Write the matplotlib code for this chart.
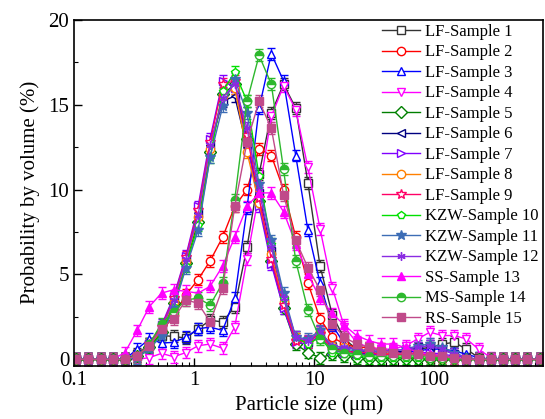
import numpy as np
import matplotlib
matplotlib.use("Agg")
import matplotlib.pyplot as plt
from matplotlib.lines import Line2D
from matplotlib.ticker import FixedLocator, LogLocator, NullFormatter, MultipleLocator

plt.rcParams['font.family'] = ['Liberation Serif', 'DejaVu Serif']

# size classes of the analyser (um)
size_um = [0.104, 0.131, 0.166, 0.210, 0.265, 0.335, 0.423, 0.535, 0.676, 0.855,
           1.08, 1.36, 1.73, 2.18, 2.76, 3.48, 4.40, 5.56, 7.03, 8.88,
           11.2, 14.2, 17.9, 22.6, 28.6, 36.2, 45.7, 57.8, 73.0, 92.3,
           117, 147, 186, 235, 297, 376, 475, 600, 759]

lf1 = [0, 0, 0, 0, 0, 0.3, 0.9, 1.4, 1.35, 1.25, 1.8, 2.3, 2.2, 3.1, 6.6, 10.9, 14.5, 16.2, 14.8, 10.4,
       5.5, 2.6, 1.2, 0.6, 0.4, 0.3, 0.3, 0.4, 0.6, 0.7, 0.9, 1.0, 0.6, 0.1, 0, 0, 0, 0, 0]
lf2 = [0, 0, 0, 0, 0, 0.2, 0.8, 1.6, 2.6, 3.8, 4.7, 5.8, 7.2, 9.0, 10.0, 12.4, 12.0, 10.0, 7.2, 4.5,
       2.4, 1.3, 0.9, 0.7, 0.7, 0.6, 0.5, 0.4, 0.3, 0.3, 0.2, 0.1, 0, 0, 0, 0, 0, 0, 0]
lf3 = [0, 0, 0, 0, 0, 0.6, 1.2, 0.96, 1.0, 1.3, 1.8, 1.9, 1.7, 3.6, 8.9, 14.8, 18.0, 16.4, 12.0, 7.6,
       4.5, 2.0, 0.9, 0.5, 0.4, 0.3, 0.3, 0.4, 0.5, 0.6, 0.6, 0.5, 0.3, 0.1, 0, 0, 0, 0, 0]
lf4 = [0, 0, 0, 0, 0, 0, 0.1, 0.35, 0.15, 0.4, 0.8, 0.9, 0.65, 1.9, 5.9, 9.8, 14.3, 16.1, 14.7, 11.3,
       7.7, 4.2, 1.9, 1.0, 0.7, 0.6, 0.6, 0.8, 1.2, 1.6, 1.4, 1.4, 1.2, 0.6, 0.1, 0, 0, 0, 0]
lf5 = [0, 0, 0, 0, 0, 0.2, 0.7, 1.6, 3.3, 5.7, 8.1, 12.2, 15.6, 16.2, 13.0, 9.3, 5.8, 3.0, 0.9, 0.4,
       0.1, 0.3, 0.2, 0.1, 0, 0, 0, 0, 0, 0, 0, 0, 0, 0, 0, 0, 0, 0, 0]
lf6 = [0, 0, 0, 0, 0, 0.2, 0.8, 1.8, 3.5, 5.9, 8.6, 12.6, 15.2, 15.5, 12.5, 9.8, 6.4, 3.4, 1.2, 1.0,
       1.6, 0.7, 0.5, 0.4, 0.3, 0.3, 0.4, 0.5, 0.7, 0.8, 0.6, 0.3, 0.1, 0, 0, 0, 0, 0, 0]
lf7 = [0, 0, 0, 0, 0, 0.2, 0.9, 2.0, 3.7, 6.1, 9.0, 13.0, 16.4, 16.0, 12.8, 9.0, 5.6, 3.0, 1.0, 0.9,
       1.4, 0.5, 0.4, 0.3, 0.3, 0.3, 0.3, 0.3, 0.4, 0.4, 0.3, 0.2, 0.1, 0, 0, 0, 0, 0, 0]
lf8 = [0, 0, 0, 0, 0, 0.2, 0.8, 1.7, 3.4, 5.8, 8.4, 12.4, 15.5, 16.0, 12.2, 9.2, 6.2, 3.4, 1.2, 1.1,
       1.6, 0.8, 0.7, 0.6, 0.5, 0.4, 0.3, 0.3, 0.3, 0.2, 0.1, 0, 0, 0, 0, 0, 0, 0, 0]
lf9 = [0, 0, 0, 0, 0, 0.2, 0.9, 1.9, 3.6, 6.0, 8.8, 12.8, 16.2, 16.4, 13.2, 9.5, 5.9, 3.2, 1.1, 1.0,
       1.5, 0.6, 0.5, 0.4, 0.4, 0.3, 0.3, 0.3, 0.3, 0.2, 0.1, 0, 0, 0, 0, 0, 0, 0, 0]
kzw10 = [0, 0, 0, 0, 0, 0.1, 0.6, 1.5, 3.1, 5.5, 7.9, 11.9, 15.8, 16.9, 15.2, 10.8, 6.8, 3.6, 1.3, 0.9,
         1.3, 0.4, 0.3, 0.2, 0.1, 0.1, 0.1, 0.1, 0.1, 0, 0, 0, 0, 0, 0, 0, 0, 0, 0]
kzw11 = [0, 0, 0, 0, 0, 0.1, 0.6, 1.4, 3.0, 5.4, 7.6, 11.9, 14.9, 16.5, 14.5, 10.3, 7.0, 3.9, 1.3, 1.2,
         1.7, 0.7, 0.6, 0.5, 0.5, 0.4, 0.5, 0.6, 0.8, 0.9, 0.7, 0.4, 0.1, 0, 0, 0, 0, 0, 0]
kzw12 = [0, 0, 0, 0, 0, 0.2, 0.8, 1.8, 3.5, 5.9, 8.5, 12.6, 15.4, 16.2, 13.6, 9.9, 6.6, 3.6, 1.3, 1.1,
         1.6, 0.8, 0.7, 0.6, 0.5, 0.5, 0.5, 0.6, 0.7, 0.8, 0.6, 0.3, 0.1, 0, 0, 0, 0, 0, 0]
ss13 = [0, 0, 0, 0, 0.4, 1.7, 3.1, 3.9, 4.1, 4.0, 3.9, 4.3, 5.5, 7.2, 9.0, 9.8, 9.8, 8.7, 6.8, 5.0,
        3.6, 2.7, 2.0, 1.4, 1.1, 0.9, 0.9, 0.7, 0.4, 0.3, 0.2, 0.1, 0, 0, 0, 0, 0, 0, 0]
ms14 = [0, 0, 0, 0, 0, 0.2, 0.9, 2.1, 2.8, 3.5, 3.6, 3.2, 4.5, 9.4, 15.2, 17.9, 16.2, 11.2, 5.8, 2.9,
        1.2, 0.6, 0.4, 0.3, 0.2, 0.2, 0.2, 0.2, 0.2, 0.1, 0.1, 0, 0, 0, 0, 0, 0, 0, 0]
rs15 = [0, 0, 0, 0, 0, 0.2, 0.8, 1.8, 2.4, 3.5, 3.3, 2.2, 4.2, 9.0, 12.8, 15.2, 13.6, 9.7, 7.0, 5.4,
        4.1, 2.1, 1.3, 0.9, 0.7, 0.5, 0.4, 0.3, 0.3, 0.2, 0.2, 0.1, 0, 0, 0, 0, 0, 0, 0]

labels = ['LF-Sample 1', 'LF-Sample 2', 'LF-Sample 3', 'LF-Sample 4', 'LF-Sample 5',
          'LF-Sample 6', 'LF-Sample 7', 'LF-Sample 8', 'LF-Sample 9', 'KZW-Sample 10',
          'KZW-Sample 11', 'KZW-Sample 12', 'SS-Sample 13', 'MS-Sample 14', 'RS-Sample 15']
series = [lf1, lf2, lf3, lf4, lf5, lf6, lf7, lf8, lf9, kzw10, kzw11, kzw12, ss13, ms14, rs15]

# colour, marker, fill style for each sample
styles = [
    ('#333333', 's', 'none'),
    ('#FF0000', 'o', 'none'),
    ('#0000FF', '^', 'none'),
    ('#FF00FF', 'v', 'none'),
    ('#008000', 'D', 'none'),
    ('#000080', '<', 'none'),
    ('#8000FF', '>', 'none'),
    ('#FF8000', 'o', 'none'),
    ('#FF0066', '*', 'none'),
    ('#00E000', 'p', 'none'),
    ('#3D6DB5', '*', 'full'),
    ('#8A2BE2', (6, 2, 0), 'full'),
    ('#FF00FF', '^', 'full'),
    ('#2DB82D', 'o', 'top'),
    ('#C04A8A', 's', 'full'),
]
yerr = 0.35

fig = plt.figure(figsize=(5.45, 4.19), dpi=100)
ax = fig.add_axes([0.136, 0.127, 0.8605, 0.826])

handles = []
for vals, lab, (col, mk, fill) in zip(series, labels, styles):
    ms = 7 if mk == '*' else 6
    kw = dict(color=col, marker=mk, markersize=ms, lw=1.0,
              markeredgecolor=col, markeredgewidth=1.0)
    if fill == 'top':
        kw.update(fillstyle='top', markerfacecoloralt='white', markerfacecolor=col)
    elif fill == 'none':
        kw.update(markerfacecolor='white')
    else:
        kw.update(markerfacecolor=col)
    ax.errorbar(size_um, vals, yerr=yerr, capsize=3, elinewidth=0.9,
                capthick=0.9, **kw)
    handles.append(Line2D([], [], label=lab, **kw))

ax.set_xscale('log')
ax.set_xlim(0.1, 810)
ax.set_ylim(-0.38, 20)

ax.xaxis.set_major_locator(FixedLocator([0.1, 1, 10, 100]))
ax.set_xticklabels(['0.1', '1', '10', '100'])
ax.xaxis.set_minor_locator(LogLocator(base=10, subs=np.arange(2, 10), numticks=20))
ax.xaxis.set_minor_formatter(NullFormatter())
ax.yaxis.set_major_locator(MultipleLocator(5))
ax.yaxis.set_minor_locator(MultipleLocator(2.5))

ax.tick_params(which='both', direction='in', top=False, right=False, labelsize=15)
ax.tick_params(which='major', length=6, width=1.0)
ax.tick_params(which='minor', length=3, width=0.8)
for sp in ax.spines.values():
    sp.set_linewidth(1.2)

ax.set_xlabel('Particle size (μm)', fontsize=15, labelpad=4)
ax.set_ylabel('Probability by volume (%)', fontsize=15, labelpad=6)

ax.legend(handles=handles, loc='upper right', bbox_to_anchor=(1.0, 1.0), frameon=False,
          fontsize=12, handlelength=2.3, handletextpad=0.3,
          labelspacing=0.27, borderaxespad=0.1, borderpad=0.15)

fig.savefig('out.png', dpi=100)
